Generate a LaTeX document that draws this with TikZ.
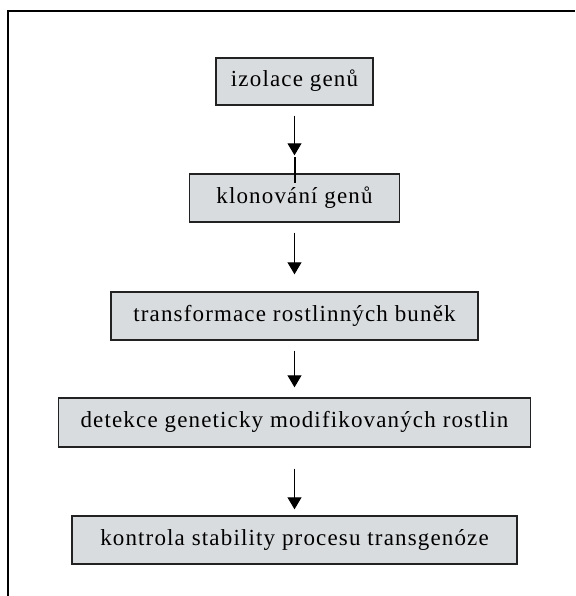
\documentclass[tikz,border=0pt]{standalone}
\usepackage{fontspec}
\setmainfont{Liberation Serif}[LetterSpace=5]
\usetikzlibrary{arrows.meta}
\definecolor{boxfill}{HTML}{D9DCDF}
\definecolor{boxline}{HTML}{222222}
\begin{document}
\begin{tikzpicture}[x=1pt,y=-1pt,
  stepbox/.style={draw=boxline, line width=1.4pt, fill=boxfill, inner sep=0pt,
    font=\fontsize{23}{27}\selectfont, text height=15pt, text depth=5pt},
  arr/.style={line width=1pt, -{Triangle[width=14pt,length=12pt]}},
  stub/.style={line width=2pt},
  frameline/.style={line width=2pt}]
\useasboundingbox (0,0) rectangle (575,596);
\draw[frameline] (8,596) -- (8,11) -- (575,11);
\node[stepbox, minimum width=157pt, minimum height=47pt] (b1) at (294.5,81.5) {izolace genů};
\node[stepbox, minimum width=210pt, minimum height=48pt] (b2) at (294.5,198) {klonování genů};
\node[stepbox, minimum width=367pt, minimum height=48pt] (b3) at (294.5,316) {transformace rostlinných buněk};
\node[stepbox, minimum width=472pt, minimum height=49pt] (b4) at (294.5,422.5) {detekce geneticky modifikovaných rostlin};
\node[stepbox, minimum width=445pt, minimum height=48pt] (b5) at (294.5,540) {kontrola stability procesu transgenóze};
\draw[arr, shorten <=10pt, shorten >=18pt] (b1) -- (b2);
\coordinate (s1) at ([yshift=16pt]b2.north);
\coordinate (s2) at ([yshift=-10pt]b2.north);
\draw[stub] (s1) -- (s2);
\draw[arr, shorten <=10pt, shorten >=17pt] (b2) -- (b3);
\draw[arr, shorten <=10pt, shorten >=10pt] (b3) -- (b4);
\draw[arr, shorten <=21pt, shorten >=6pt] (b4) -- (b5);
\end{tikzpicture}
\end{document}
